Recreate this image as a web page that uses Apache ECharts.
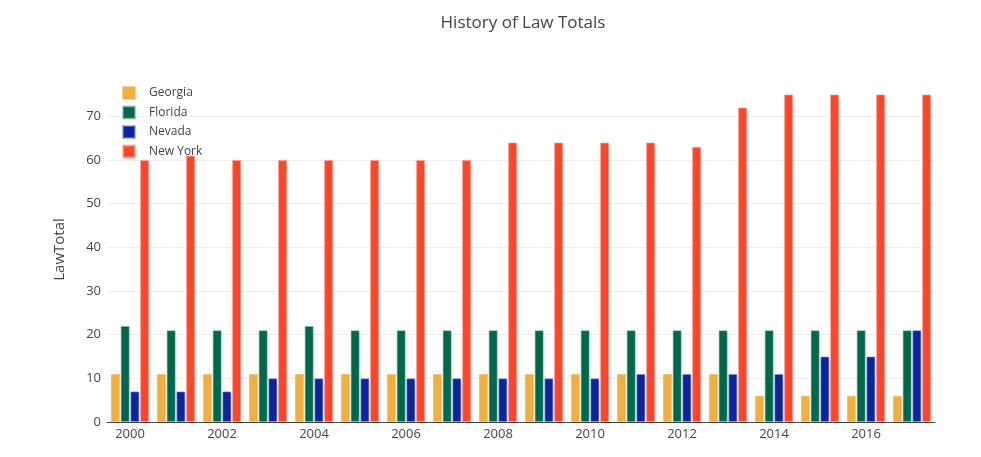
<!DOCTYPE html>
<html><head><meta charset="utf-8">
<script src="https://cdn.jsdelivr.net/npm/echarts@6/dist/echarts.min.js"></script>
<style>html,body{margin:0;padding:0;background:#fff}#c{width:981px;height:457px}</style>
</head><body><div id="c"></div>
<script>
const years = ['2000','2001','2002','2003','2004','2005','2006','2007','2008','2009','2010','2011','2012','2013','2014','2015','2016','2017'];
const georgia = [11,11,11,11,11,11,11,11,11,11,11,11,11,11,6,6,6,6];
const florida = [22,21,21,21,22,21,21,21,21,21,21,21,21,21,21,21,21,21];
const nevada  = [7,7,7,10,10,10,10,10,10,10,10,11,11,11,11,15,15,21];
const newYork = [60,61,60,60,60,60,60,60,64,64,64,64,63,72,75,75,75,75];
const seriesNames = ['Georgia','Florida','Nevada','New York'];
const colors = ['#F1AF3F','#00684A','#0C24A0','#FF4629'];
const borders = ['rgba(241,175,63,0.5)','rgba(120,180,160,0.6)','rgba(120,140,220,0.6)','rgba(255,160,150,0.7)'];
const font = '"Open Sans", "DejaVu Sans", sans-serif';
const chart = echarts.init(document.getElementById('c'));
const datas = [georgia, florida, nevada, newYork];
chart.setOption({
  animation: false,
  title: { text: 'History of Law Totals', left: 518, top: 10, textAlign: 'center',
    textStyle: { fontFamily: font, fontSize: 17, fontWeight: 'normal', color: '#444' } },
  legend: { orient: 'vertical', left: 122, top: 86, padding: 0, itemWidth: 12, itemHeight: 12, itemGap: 5.5,
    icon: 'rect', data: seriesNames,
    textStyle: { fontFamily: font, fontSize: 12, color: '#444', padding: [0,0,0,9] } },
  grid: { left: 107, right: 46, top: 77, bottom: 35, containLabel: false },
  xAxis: { type: 'category', data: years,
    axisLine: { show: true, lineStyle: { color: '#444', width: 1 } },
    axisTick: { show: false },
    axisLabel: { interval: 1, fontFamily: font, fontSize: 13, color: '#444', margin: 6 } },
  yAxis: { type: 'value', min: 0, max: 79, interval: 10,
    name: 'LawTotal', nameLocation: 'middle', nameGap: 40, nameRotate: 90,
    nameTextStyle: { fontFamily: font, fontSize: 15, color: '#444' },
    axisLine: { show: false }, axisTick: { show: false },
    axisLabel: { showMaxLabel: false, fontFamily: font, fontSize: 13, color: '#444', margin: 6 },
    splitLine: { showMaxLine: false, lineStyle: { color: '#eee', width: 1 } } },
  series: seriesNames.map((n, i) => ({
    name: n, type: 'bar', data: datas[i],
    barCategoryGap: '17%', barGap: '8%',
    itemStyle: { color: colors[i], borderColor: borders[i], borderWidth: 1 }
  }))
});
</script></body></html>
